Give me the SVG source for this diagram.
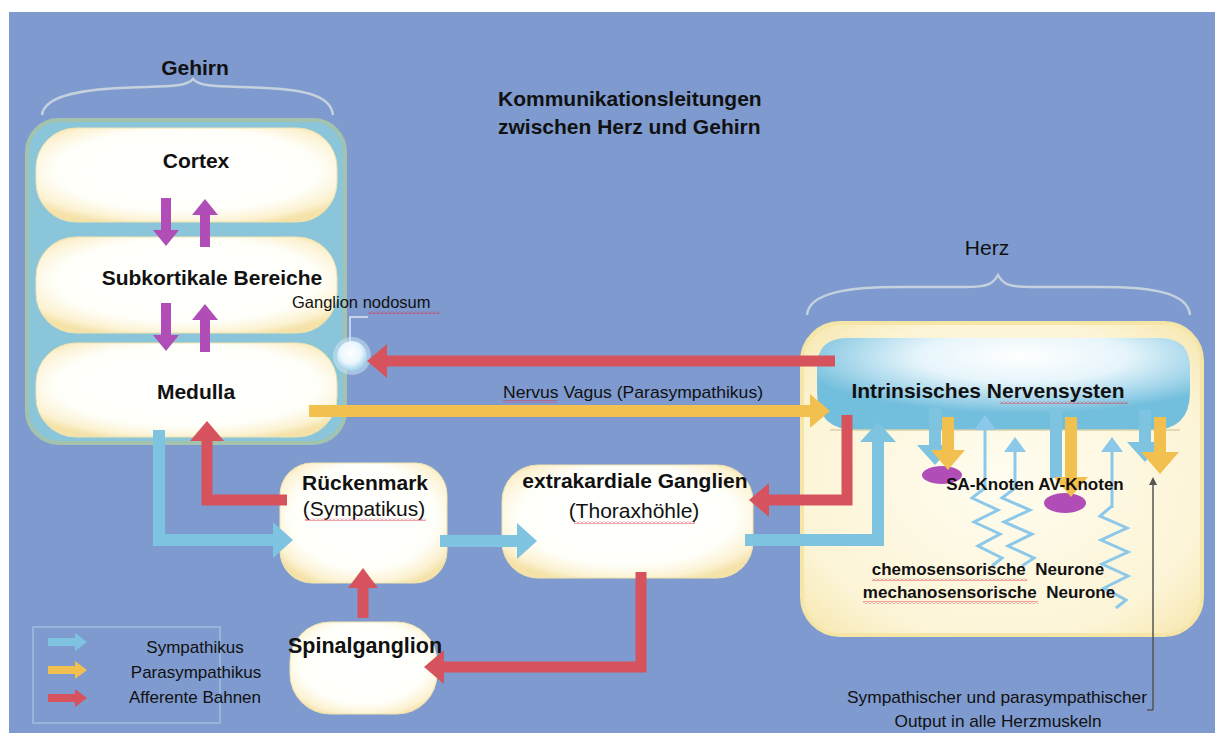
<svg xmlns="http://www.w3.org/2000/svg" width="1215" height="733" viewBox="0 0 1215 733">
<defs>
<style>
.t{font-family:"Liberation Sans",Arial,sans-serif;fill:#111;}
.b{font-weight:bold;}
.br{fill:none;stroke:#C6D1DE;stroke-width:2.5;}
.red{fill:none;stroke:#D6525C;stroke-width:11;}
.blu{fill:none;stroke:#7EC4E0;stroke-width:12;}
.yel{fill:none;stroke:#F1C04F;stroke-width:12;}
.pur{fill:none;stroke:#B04DB6;stroke-width:10;}
.thin{fill:none;stroke:#8CC8EA;stroke-width:3;}
.wavy{fill:url(#wv);}
.node{stroke:#F1E3B0;stroke-width:1;}
</style>
<radialGradient id="cream" cx="50%" cy="45%" r="62%">
<stop offset="0" stop-color="#FFFFFF"/>
<stop offset="0.7" stop-color="#FFFFFA"/>
<stop offset="0.9" stop-color="#FCF2D2"/>
<stop offset="1" stop-color="#F4E2A8"/>
</radialGradient>
<radialGradient id="heartbg" cx="50%" cy="50%" r="65%">
<stop offset="0" stop-color="#FFFDF0"/>
<stop offset="0.8" stop-color="#FCF4D6"/>
<stop offset="1" stop-color="#F8EAB8"/>
</radialGradient>
<radialGradient id="ins" cx="0.55" cy="0.2" r="0.62">
<stop offset="0" stop-color="#FFFFFF"/>
<stop offset="0.45" stop-color="#E6F5FB"/>
<stop offset="0.8" stop-color="#9FD3E9"/>
<stop offset="1" stop-color="#72BEDD"/>
</radialGradient>
<radialGradient id="gang" cx="45%" cy="40%" r="60%">
<stop offset="0" stop-color="#FFFFFF"/>
<stop offset="0.6" stop-color="#EAF6FC"/>
<stop offset="1" stop-color="#9DD1EC"/>
</radialGradient>
<pattern id="wv" width="4" height="3" patternUnits="userSpaceOnUse">
<path d="M0,2.5 L2,0.5 L4,2.5" fill="none" stroke="#E0334A" stroke-width="0.9"/>
</pattern>
<marker id="hR" viewBox="0 0 20 34" markerWidth="20" markerHeight="34" refX="1" refY="17" orient="auto" markerUnits="userSpaceOnUse"><path d="M0,0 L20,17 L0,34 Z" fill="#D6525C"/></marker>
<marker id="hRs" viewBox="0 0 20 30" markerWidth="20" markerHeight="30" refX="1" refY="15" orient="auto" markerUnits="userSpaceOnUse"><path d="M0,0 L20,15 L0,30 Z" fill="#D6525C"/></marker>
<marker id="hB" viewBox="0 0 20 36" markerWidth="20" markerHeight="36" refX="1" refY="18" orient="auto" markerUnits="userSpaceOnUse"><path d="M0,0 L20,18 L0,36 Z" fill="#7EC4E0"/></marker>
<marker id="hY" viewBox="0 0 20 34" markerWidth="20" markerHeight="34" refX="1" refY="17" orient="auto" markerUnits="userSpaceOnUse"><path d="M0,0 L20,17 L0,34 Z" fill="#F1C04F"/></marker>
<marker id="hY2" viewBox="0 0 22 38" markerWidth="22" markerHeight="38" refX="1" refY="19" orient="auto" markerUnits="userSpaceOnUse"><path d="M0,0 L22,19 L0,38 Z" fill="#F1C04F"/></marker>
<marker id="hP" viewBox="0 0 16 26" markerWidth="16" markerHeight="26" refX="1" refY="13" orient="auto" markerUnits="userSpaceOnUse"><path d="M0,0 L16,13 L0,26 Z" fill="#B04DB6"/></marker>
<marker id="hT" viewBox="0 0 15 22" markerWidth="15" markerHeight="22" refX="1" refY="11" orient="auto" markerUnits="userSpaceOnUse"><path d="M0,0 L15,11 L0,22 Z" fill="#8CC8EA"/></marker>
<marker id="hK" viewBox="0 0 8 8" markerWidth="8" markerHeight="8" refX="1" refY="4" orient="auto" markerUnits="userSpaceOnUse"><path d="M0,0 L8,4 L0,8 Z" fill="#555"/></marker>
<marker id="lB" viewBox="0 0 12 18" markerWidth="12" markerHeight="18" refX="1" refY="9" orient="auto" markerUnits="userSpaceOnUse"><path d="M0,0 L12,9 L0,18 Z" fill="#7EC4E0"/></marker>
<marker id="lY" viewBox="0 0 12 18" markerWidth="12" markerHeight="18" refX="1" refY="9" orient="auto" markerUnits="userSpaceOnUse"><path d="M0,0 L12,9 L0,18 Z" fill="#F1C04F"/></marker>
<marker id="lR" viewBox="0 0 12 18" markerWidth="12" markerHeight="18" refX="1" refY="9" orient="auto" markerUnits="userSpaceOnUse"><path d="M0,0 L12,9 L0,18 Z" fill="#D6525C"/></marker>
</defs>

<rect x="0" y="0" width="1215" height="733" fill="#FFFFFF"/>
<rect x="9" y="12" width="1206" height="721" fill="#7E9ACF"/>

<g id="title">
<text class="t b" x="498" y="106" font-size="21">Kommunikationsleitungen</text>
<text class="t b" x="498" y="134" font-size="21">zwischen Herz und Gehirn</text>
</g>

<g id="gehirn">
<text class="t b" x="195" y="75" font-size="21" text-anchor="middle">Gehirn</text>
<path class="br" d="M42,115 C44,96 80,90 120,88 C162,86 186,88 193,79 C200,88 224,86 266,88 C306,90 331,96 333,115"/>
<rect x="27" y="120" width="318" height="323" rx="32" fill="#8BC5D9" stroke="#A3C3AE" stroke-width="4"/>
</g>

<g id="cortex">
<rect class="node" x="36" y="128" width="301" height="94" rx="40" fill="url(#cream)"/>
<text class="t b" x="196" y="168" font-size="21" text-anchor="middle">Cortex</text>
</g>
<g id="subkortikal">
<rect class="node" x="36" y="237" width="301" height="96" rx="40" fill="url(#cream)"/>
<text class="t b" x="212" y="285" font-size="21" text-anchor="middle">Subkortikale Bereiche</text>
</g>
<g id="medulla">
<rect class="node" x="36" y="343" width="301" height="94" rx="40" fill="url(#cream)"/>
<text class="t b" x="196" y="399" font-size="21" text-anchor="middle">Medulla</text>
</g>

<g id="herz">
<text class="t" x="987" y="255" font-size="21" text-anchor="middle">Herz</text>
<path class="br" d="M807,315 C809,292 850,287 900,287 L965,287 C988,287 993,284 998,275 C1003,284 1008,287 1031,287 L1100,287 C1150,287 1188,292 1190,315"/>
<rect x="802" y="323" width="400" height="312" rx="38" fill="url(#heartbg)" stroke="#F5E6A8" stroke-width="4"/>
</g>

<g id="intrinsisch">
<path d="M847,338 L1160,338 Q1190,338 1190,368 L1190,392 Q1190,430 1152,430 L857,430 Q817,430 817,392 L817,368 Q817,338 847,338 Z" fill="url(#ins)"/>
<line x1="830" y1="430" x2="1180" y2="430" stroke="#D9CFA8" stroke-width="1.5"/>
</g>

<g id="rueckenmark">
<rect class="node" x="280" y="463" width="167" height="120" rx="32" fill="url(#cream)"/>
<text class="t b" x="365" y="490" font-size="21" text-anchor="middle">Rückenmark</text>
<text class="t" x="364" y="516" font-size="21" text-anchor="middle">(Sympatikus)</text>
<rect class="wavy" x="305" y="518" width="121" height="3"/>
</g>

<g id="extrakardial">
<rect class="node" x="502" y="465" width="251" height="113" rx="36" fill="url(#cream)"/>
<text class="t b" x="635" y="488" font-size="21" text-anchor="middle">extrakardiale Ganglien</text>
<text class="t" x="634" y="518" font-size="21" text-anchor="middle">(Thoraxhöhle)</text>
<rect class="wavy" x="574" y="521" width="121" height="3"/>
</g>

<g id="spinalganglion">
<rect class="node" x="290" y="622" width="147" height="92" rx="40" fill="url(#cream)"/>
<text class="t b" x="365" y="653" font-size="21.5" text-anchor="middle">Spinalganglion</text>
</g>

<g id="ganglion-nodosum">
<text class="t" x="292" y="308" font-size="16.5">Ganglion nodosum</text>
<rect class="wavy" x="368" y="311" width="72" height="3"/>
<path d="M368,317 L350,317 L350,342" fill="none" stroke="#DDE8F4" stroke-width="1.5"/>
<circle cx="352" cy="356" r="19" fill="#CFE9F7" opacity="0.5"/>
<circle cx="352" cy="356" r="15" fill="url(#gang)"/>
</g>

<g id="connectors">
<path class="pur" d="M166,198 L166,231" marker-end="url(#hP)"/>
<path class="pur" d="M205,247 L205,214" marker-end="url(#hP)"/>
<path class="pur" d="M166,303 L166,336" marker-end="url(#hP)"/>
<path class="pur" d="M205,352 L205,319" marker-end="url(#hP)"/>
<path class="red" d="M835,361 L386,361" marker-end="url(#hR)"/>
<path class="yel" d="M309,411 L811,411" marker-end="url(#hY)"/>
<path class="blu" d="M159,430 L159,540 L274,540" marker-end="url(#hB)"/>
<path class="red" d="M287,500 L207,500 L207,440" marker-end="url(#hR)"/>
<path class="blu" d="M440,541 L518,541" marker-end="url(#hB)"/>
<path class="red" d="M847,415 L847,500 L768,500" marker-end="url(#hR)"/>
<path class="blu" d="M745,540 L878,540 L878,441" marker-end="url(#hB)"/>
<path class="red" d="M641,572 L641,667 L443,667" marker-end="url(#hR)"/>
<path class="red" d="M363,618 L363,587" marker-end="url(#hRs)"/>
</g>

<g id="nervus-vagus-label">
<text class="t" x="503" y="398" font-size="17" textLength="260" lengthAdjust="spacingAndGlyphs">Nervus Vagus (Parasympathikus)</text>
<rect class="wavy" x="503" y="400" width="54" height="3"/>
</g>

<g id="heart-inner">
<ellipse cx="942" cy="475" rx="20" ry="9" fill="#B04DB6"/>
<ellipse cx="1065" cy="503" rx="21" ry="10" fill="#B04DB6"/>
<path class="blu" d="M935,408 L935,446" marker-end="url(#hB)"/>
<path class="yel" d="M948,417 L948,451" marker-end="url(#hY)"/>
<path class="blu" d="M1056,408 L1056,478"/>
<path class="yel" d="M1071,417 L1071,478" marker-end="url(#hY)"/>
<path class="blu" d="M1145,410 L1145,443" marker-end="url(#hB)"/>
<path class="yel" d="M1160,417 L1160,453" marker-end="url(#hY2)"/>
<path class="thin" d="M985,490 L985,429" marker-end="url(#hT)"/>
<path class="thin" d="M1015,490 L1015,451" marker-end="url(#hT)"/>
<path class="thin" d="M1112,508 L1112,451" marker-end="url(#hT)"/>
<path class="thin" d="M985,488 L972,498 L998,510 L974,522 L1000,534 L978,546 L1002,558 L992,566"/>
<path class="thin" d="M1015,488 L1002,498 L1030,510 L1004,522 L1032,534 L1008,546 L1034,558 L1022,566"/>
<path class="thin" d="M1112,506 L1100,516 L1127,528 L1101,540 L1128,552 L1102,564 L1128,576 L1104,588 L1126,600 L1116,608"/>
<path d="M1153,710 L1153,484" fill="none" stroke="#555" stroke-width="1.5" marker-end="url(#hK)"/>
<path d="M1147,710 L1153,710" fill="none" stroke="#555" stroke-width="1.5"/>
<text class="t b" x="988" y="398" font-size="21" text-anchor="middle">Intrinsisches Nervensysten</text>
<rect class="wavy" x="1000" y="401" width="128" height="3"/>
<text class="t b" x="1035" y="490" font-size="17" text-anchor="middle">SA-Knoten AV-Knoten</text>
<text class="t b" x="988" y="575" font-size="17" text-anchor="middle" xml:space="preserve">chemosensorische  Neurone</text>
<rect class="wavy" x="872" y="578" width="155" height="3"/>
<text class="t b" x="989" y="598" font-size="17" text-anchor="middle" xml:space="preserve">mechanosensorische  Neurone</text>
<rect class="wavy" x="863" y="601" width="175" height="3"/>
</g>

<g id="output-label">
<text class="t" x="997" y="703" font-size="17" text-anchor="middle" textLength="300" lengthAdjust="spacingAndGlyphs">Sympathischer und parasympathischer</text>
<text class="t" x="998" y="727" font-size="17" text-anchor="middle" textLength="207" lengthAdjust="spacingAndGlyphs">Output in alle Herzmuskeln</text>
</g>

<g id="legend">
<rect x="33" y="627" width="187" height="96" fill="none" stroke="#9DBEE0" stroke-width="1.5"/>
<path d="M48,642 L76,642" stroke="#7EC4E0" stroke-width="8" marker-end="url(#lB)"/>
<path d="M48,670 L76,670" stroke="#F1C04F" stroke-width="8" marker-end="url(#lY)"/>
<path d="M48,698 L76,698" stroke="#D6525C" stroke-width="8" marker-end="url(#lR)"/>
<text class="t" x="195" y="653" font-size="17" text-anchor="middle">Sympathikus</text>
<text class="t" x="196" y="678" font-size="17" text-anchor="middle">Parasympathikus</text>
<text class="t" x="195" y="703" font-size="17" text-anchor="middle">Afferente Bahnen</text>
</g>
</svg>
